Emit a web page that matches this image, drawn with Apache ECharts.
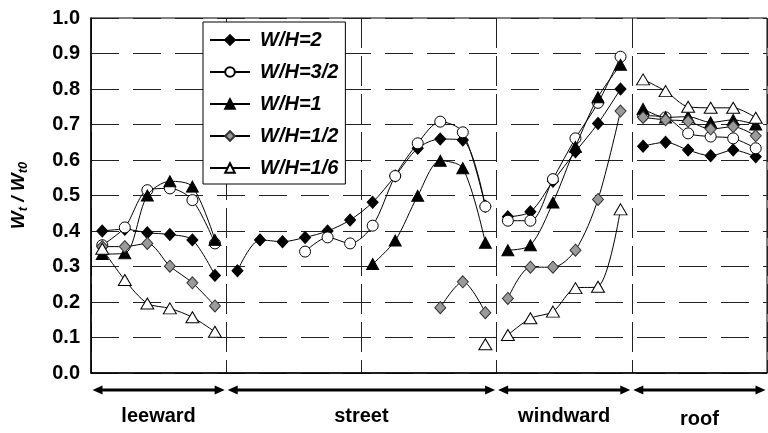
<!DOCTYPE html>
<html>
<head>
<meta charset="utf-8">
<script src="https://cdn.jsdelivr.net/npm/echarts@6/dist/echarts.min.js"></script>
<style>
  html, body { margin: 0; padding: 0; background: #fff; }
  #chart { width: 768px; height: 433px; }
</style>
</head>
<body>
<div id="chart"></div>
<script>
// Measuring stations along the canyon cross-section, grouped into surfaces.
const sectionNames = ['leeward', 'street', 'windward', 'roof'];
const sectionStart = [0, 6, 18, 24];   // first station index of each surface
const sectionEnd   = [6, 18, 24, 30];  // one past the last station index

const seriesNames = ['W/H=2', 'W/H=3/2', 'W/H=1', 'W/H=1/2', 'W/H=1/6'];

// Wt / Wt0 at each of the 30 stations (null = not measured)
const wh2 = [
  0.40, 0.405, 0.395, 0.39, 0.375, 0.275,
  0.288, 0.375, 0.37, 0.382, 0.40, 0.431, 0.481, 0.555, 0.633, 0.659, 0.656, 0.47,
  0.44, 0.454, 0.54, 0.623, 0.703, 0.80,
  0.639, 0.65, 0.628, 0.612, 0.628, 0.609
];
const wh32 = [
  0.36, 0.41, 0.515, 0.52, 0.487, 0.365,
  null, null, null, 0.342, 0.382, 0.365, 0.415, 0.555, 0.647, 0.708, 0.678, 0.469,
  0.429, 0.429, 0.546, 0.661, 0.761, 0.891,
  0.725, 0.72, 0.675, 0.666, 0.661, 0.633
];
const wh1 = [
  0.335, 0.337, 0.50, 0.54, 0.525, 0.375,
  null, null, null, null, null, null, 0.307, 0.373, 0.499, 0.598, 0.577, 0.367,
  0.346, 0.36, 0.48, 0.637, 0.777, 0.868,
  0.744, 0.72, 0.722, 0.706, 0.713, 0.70
];
const wh12 = [
  0.356, 0.356, 0.365, 0.301, 0.254, 0.189,
  null, null, null, null, null, null, null, null, null, 0.184, 0.257, 0.17,
  0.21, 0.298, 0.298, 0.346, 0.489, 0.738,
  0.72, 0.713, 0.709, 0.687, 0.694, 0.668
];
const wh16 = [
  0.35, 0.262, 0.196, 0.182, 0.157, 0.116,
  null, null, null, null, null, null, null, null, null, null, null, 0.081,
  0.107, 0.154, 0.173, 0.239, 0.243, 0.461,
  0.827, 0.794, 0.75, 0.747, 0.747, 0.719
];

const yTicks = [0, 0.1, 0.2, 0.3, 0.4, 0.5, 0.6, 0.7, 0.8, 0.9, 1.0];

const FONT = "'Liberation Sans', Arial, Helvetica, sans-serif";

// Build line data: one curve piece per surface, broken between surfaces.
function buildData(values) {
  const out = [];
  for (let s = 0; s < sectionNames.length; s++) {
    for (let i = sectionStart[s]; i < sectionEnd[s]; i++) {
      out.push([i + 0.5, values[i] == null ? '-' : values[i]]);
    }
    out.push([sectionEnd[s], '-']);
  }
  return out;
}

const styles = [
  { symbol: 'diamond',  size: [11, 12], fill: '#000',    border: '#000' },
  { symbol: 'circle',   size: 11,       fill: '#fff',    border: '#000' },
  { symbol: 'triangle', size: [12, 11], fill: '#000',    border: '#000' },
  { symbol: 'diamond',  size: [11, 12], fill: '#9a9a9a', border: '#333' },
  { symbol: 'triangle', size: [13, 11], fill: '#fff',    border: '#000' }
];
const values = [wh2, wh32, wh1, wh12, wh16];

const series = seriesNames.map((name, k) => ({
  name: name,
  type: 'line',
  data: buildData(values[k]),
  smooth: 0.3,
  connectNulls: false,
  symbol: styles[k].symbol,
  symbolSize: styles[k].size,
  showAllSymbol: true,
  lineStyle: { color: '#000', width: 1 },
  itemStyle: { color: styles[k].fill, borderColor: styles[k].border, borderWidth: 1 },
  emphasis: { disabled: true },
  z: 2 + k
}));

const chart = echarts.init(document.getElementById('chart'), null, { renderer: 'canvas' });

chart.setOption({
  animation: false,
  backgroundColor: '#fff',
  grid: {
    left: 87, right: 1, top: 18, bottom: 60,
    show: true, borderColor: '#000', borderWidth: 1
  },
  legend: {
    orient: 'vertical',
    left: 203, top: 22,
    data: seriesNames,
    itemWidth: 40, itemHeight: 12,
    itemGap: 10,
    padding: [7, 7, 5, 6],
    backgroundColor: '#fff',
    borderColor: '#000',
    borderWidth: 1,
    borderRadius: 0,
    textStyle: {
      fontFamily: FONT, fontSize: 20, fontWeight: 'bold', fontStyle: 'italic',
      color: '#000', lineHeight: 22, padding: [0, 0, 0, 5]
    },
    selectedMode: false
  },
  xAxis: {
    type: 'value',
    min: 0, max: 30, interval: 6,
    axisLine: { show: true, lineStyle: { color: '#000', width: 1.5 } },
    axisTick: { show: false },
    axisLabel: { show: false },
    splitLine: { show: true, lineStyle: { color: '#222', width: 1, type: [30, 8] } }
  },
  yAxis: {
    type: 'value',
    min: yTicks[0], max: yTicks[yTicks.length - 1], interval: 0.1,
    name: '{m|W}{s|t}{m| / W}{s|t0}',
    nameLocation: 'middle',
    nameGap: 60,
    nameRotate: 90,
    nameTextStyle: {
      rich: {
        m: { fontFamily: FONT, fontSize: 19, fontWeight: 'bold', fontStyle: 'italic', color: '#000', lineHeight: 24 },
        s: { fontFamily: FONT, fontSize: 13, fontWeight: 'bold', fontStyle: 'italic', color: '#000', lineHeight: 24, padding: [9, 0, 0, 0] }
      }
    },
    axisLine: { show: true, lineStyle: { color: '#000', width: 1.5 } },
    axisTick: { show: false },
    axisLabel: {
      margin: 11,
      fontFamily: FONT, fontSize: 20, fontWeight: 'bold', color: '#000',
      formatter: v => v.toFixed(1)
    },
    splitLine: { show: true, lineStyle: { color: '#222', width: 1, type: [28, 14] } }
  },
  series: series
});

// Double-headed arrows and surface names under the plot.
function surfaceGraphics() {
  const els = [];
  const arrowY = 390;
  const head = 10, half = 4.5, thick = 3;
  for (let s = 0; s < sectionNames.length; s++) {
    const x0 = chart.convertToPixel({ xAxisIndex: 0 }, sectionStart[s]) + 1.5;
    const x1 = chart.convertToPixel({ xAxisIndex: 0 }, sectionEnd[s]) - 1.5;
    els.push({
      type: 'line',
      shape: { x1: x0 + head - 1, y1: arrowY, x2: x1 - head + 1, y2: arrowY },
      style: { stroke: '#000', lineWidth: thick },
      silent: true
    });
    els.push({
      type: 'polygon',
      shape: { points: [[x0, arrowY], [x0 + head, arrowY - half], [x0 + head, arrowY + half]] },
      style: { fill: '#000' },
      silent: true
    });
    els.push({
      type: 'polygon',
      shape: { points: [[x1, arrowY], [x1 - head, arrowY - half], [x1 - head, arrowY + half]] },
      style: { fill: '#000' },
      silent: true
    });
    const xc = (chart.convertToPixel({ xAxisIndex: 0 }, sectionStart[s]) +
                chart.convertToPixel({ xAxisIndex: 0 }, sectionEnd[s])) / 2;
    els.push({
      type: 'text',
      x: xc, y: sectionNames[s] === 'roof' ? 419 : 416,
      style: {
        text: sectionNames[s],
        fontFamily: FONT, fontSize: 20, fontWeight: 'bold',
        fill: '#000', align: 'center', verticalAlign: 'middle'
      },
      silent: true
    });
  }
  return els;
}

chart.setOption({ graphic: { elements: surfaceGraphics() } });
</script>
</body>
</html>
